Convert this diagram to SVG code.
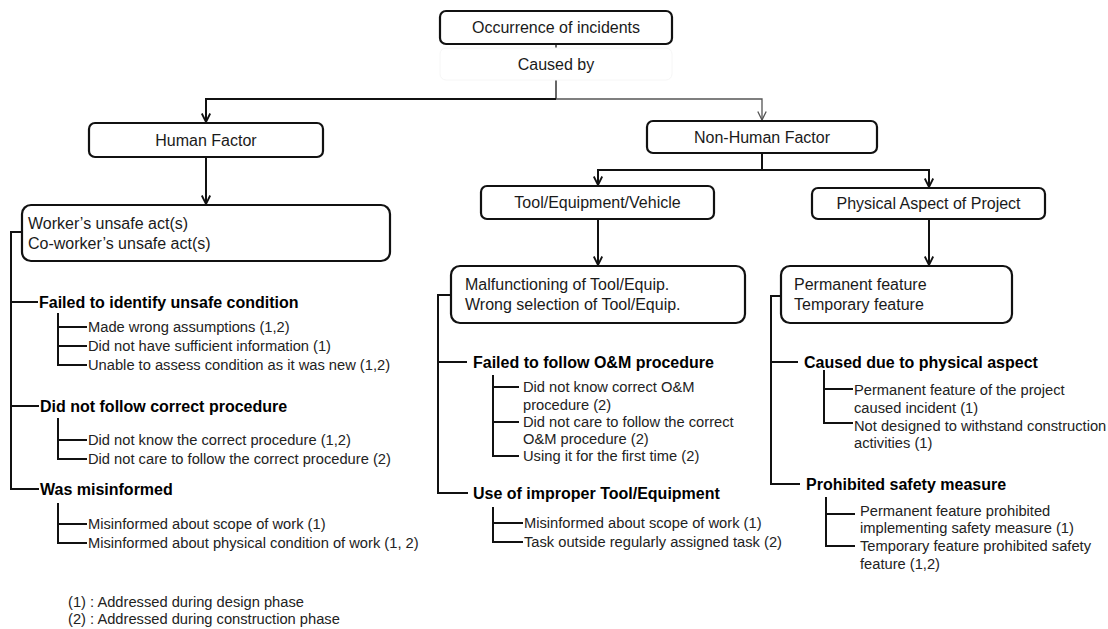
<svg xmlns="http://www.w3.org/2000/svg" width="1108" height="629" viewBox="0 0 1108 629">
<defs>
<style>
.box{fill:#fff;stroke:#111;stroke-width:2.2}
.bt{font-family:"Liberation Sans",Arial,sans-serif;font-size:16px;fill:#1a1a1a}
.c{text-anchor:middle}
.hd{font-family:"Liberation Sans",Arial,sans-serif;font-size:16px;font-weight:bold;fill:#000}
.sb{font-family:"Liberation Sans",Arial,sans-serif;font-size:14.7px;fill:#222}
.ln{fill:none;stroke:#111;stroke-width:2}
.thin{fill:none;stroke:#555;stroke-width:1.3}
</style>
<marker id="ah" viewBox="0 0 10 10" refX="9.5" refY="5" markerWidth="10" markerHeight="10" markerUnits="userSpaceOnUse" orient="auto">
<path d="M1,0.8 L9.5,5 L1,9.2" fill="none" stroke="#111" stroke-width="1.8"/>
</marker>
<marker id="ahg" viewBox="0 0 10 10" refX="9.5" refY="5" markerWidth="10" markerHeight="10" markerUnits="userSpaceOnUse" orient="auto">
<path d="M1,0.8 L9.5,5 L1,9.2" fill="none" stroke="#555" stroke-width="1.3"/>
</marker>
</defs>
<rect width="1108" height="629" fill="#fff"/>

<g id="connectors">
<path fill="none" stroke="#333" stroke-width="1.5" d="M556,44 V99"/>
<path class="ln" d="M556,99 H206 V122" marker-end="url(#ah)"/>
<path class="thin" d="M556,99 H762 V120" marker-end="url(#ahg)"/>
<path class="ln" d="M206,157 V204" marker-end="url(#ah)"/>
<path class="ln" d="M762,153 V170 H598 V185" marker-end="url(#ah)"/>
<path class="ln" d="M762,170 H929 V187" marker-end="url(#ah)"/>
<path class="ln" d="M598,219 V265" marker-end="url(#ah)"/>
<path class="ln" d="M929,219 V265" marker-end="url(#ah)"/>
<path class="ln" d="M22,232 H11 V489 H39"/>
<path class="ln" d="M11,302 H38"/>
<path class="ln" d="M11,406 H39"/>
<path class="ln" d="M58,313 V365 H87 M58,327 H87 M58,346 H87"/>
<path class="ln" d="M58,418 V459 H87 M58,440 H87"/>
<path class="ln" d="M58,503 V543 H87 M58,524 H87"/>
<path class="ln" d="M451,295 H438 V493 H468"/>
<path class="ln" d="M438,362 H467"/>
<path class="ln" d="M493,375 V456 H519 M493,387 H519 M493,422 H519"/>
<path class="ln" d="M493,507 V542 H523 M493,523 H523"/>
<path class="ln" d="M781,296 H771 V484 H800"/>
<path class="ln" d="M771,362 H798"/>
<path class="ln" d="M824,370 V423 H853 M824,389 H853"/>
<path class="ln" d="M826,497 V546 H855 M826,514 H855"/>
</g>

<g id="n-occurrence">
<rect class="box" x="440" y="11" width="232" height="33" rx="6"/>
<text class="bt c" x="556" y="33">Occurrence of incidents</text>
</g>
<g id="l-causedby">
<rect x="440" y="48" width="232" height="32" rx="6" fill="#fff" stroke="#f6f6f6" stroke-width="1"/>
<text class="bt c" x="556" y="70">Caused by</text>
</g>
<g id="n-human">
<rect class="box" x="89" y="123" width="234" height="34" rx="6"/>
<text class="bt c" x="206" y="146">Human Factor</text>
</g>
<g id="n-nonhuman">
<rect class="box" x="647" y="121" width="230" height="32" rx="6"/>
<text class="bt c" x="762" y="143">Non-Human Factor</text>
</g>
<g id="n-tool">
<rect class="box" x="481" y="186" width="233" height="33" rx="6"/>
<text class="bt c" x="597.5" y="208">Tool/Equipment/Vehicle</text>
</g>
<g id="n-physical">
<rect class="box" x="812" y="188" width="233" height="31" rx="6"/>
<text class="bt c" x="928.5" y="209">Physical Aspect of Project</text>
</g>
<g id="n-worker">
<rect class="box" x="22" y="205" width="368" height="56" rx="9"/>
<text class="bt" x="28" y="228.5">Worker’s unsafe act(s)</text>
<text class="bt" x="28" y="248.5">Co-worker’s unsafe act(s)</text>
</g>
<g id="n-malfunction">
<rect class="box" x="451" y="266" width="294" height="57" rx="9"/>
<text class="bt" x="465" y="290">Malfunctioning of Tool/Equip.</text>
<text class="bt" x="465" y="310">Wrong selection of Tool/Equip.</text>
</g>
<g id="n-permanent">
<rect class="box" x="781" y="266" width="231" height="57" rx="9"/>
<text class="bt" x="794" y="290">Permanent feature</text>
<text class="bt" x="794" y="310">Temporary feature</text>
</g>

<g id="left-items">
<text class="hd" x="39" y="308">Failed to identify unsafe condition</text>
<text class="sb" x="88" y="332">Made wrong assumptions (1,2)</text>
<text class="sb" x="88" y="351">Did not have sufficient information (1)</text>
<text class="sb" x="88" y="370">Unable to assess condition as it was new (1,2)</text>
<text class="hd" x="40" y="412">Did not follow correct procedure</text>
<text class="sb" x="88" y="445">Did not know the correct procedure (1,2)</text>
<text class="sb" x="88" y="464">Did not care to follow the correct procedure (2)</text>
<text class="hd" x="40" y="495">Was misinformed</text>
<text class="sb" x="88" y="529">Misinformed about scope of work (1)</text>
<text class="sb" x="88" y="548">Misinformed about physical condition of work (1, 2)</text>
</g>
<g id="middle-items">
<text class="hd" x="473" y="368">Failed to follow O&amp;M procedure</text>
<text class="sb" x="523" y="392">Did not know correct O&amp;M</text>
<text class="sb" x="523" y="410">procedure (2)</text>
<text class="sb" x="523" y="427">Did not care to follow the correct</text>
<text class="sb" x="523" y="444">O&amp;M procedure (2)</text>
<text class="sb" x="523" y="461">Using it for the first time (2)</text>
<text class="hd" x="473" y="499">Use of improper Tool/Equipment</text>
<text class="sb" x="524" y="528">Misinformed about scope of work (1)</text>
<text class="sb" x="524" y="547">Task outside regularly assigned task (2)</text>
</g>
<g id="right-items">
<text class="hd" x="804" y="368">Caused due to physical aspect</text>
<text class="sb" x="854" y="395">Permanent feature of the project</text>
<text class="sb" x="854" y="413">caused incident (1)</text>
<text class="sb" x="854" y="431">Not designed to withstand construction</text>
<text class="sb" x="854" y="448">activities (1)</text>
<text class="hd" x="806" y="490">Prohibited safety measure</text>
<text class="sb" x="860" y="516">Permanent feature prohibited</text>
<text class="sb" x="860" y="533">implementing  safety measure (1)</text>
<text class="sb" x="860" y="551">Temporary feature prohibited safety</text>
<text class="sb" x="860" y="569">feature (1,2)</text>
</g>
<g id="legend">
<text class="sb" x="68" y="607">(1) : Addressed during design phase</text>
<text class="sb" x="68" y="624">(2) : Addressed during construction phase</text>
</g>
</svg>
